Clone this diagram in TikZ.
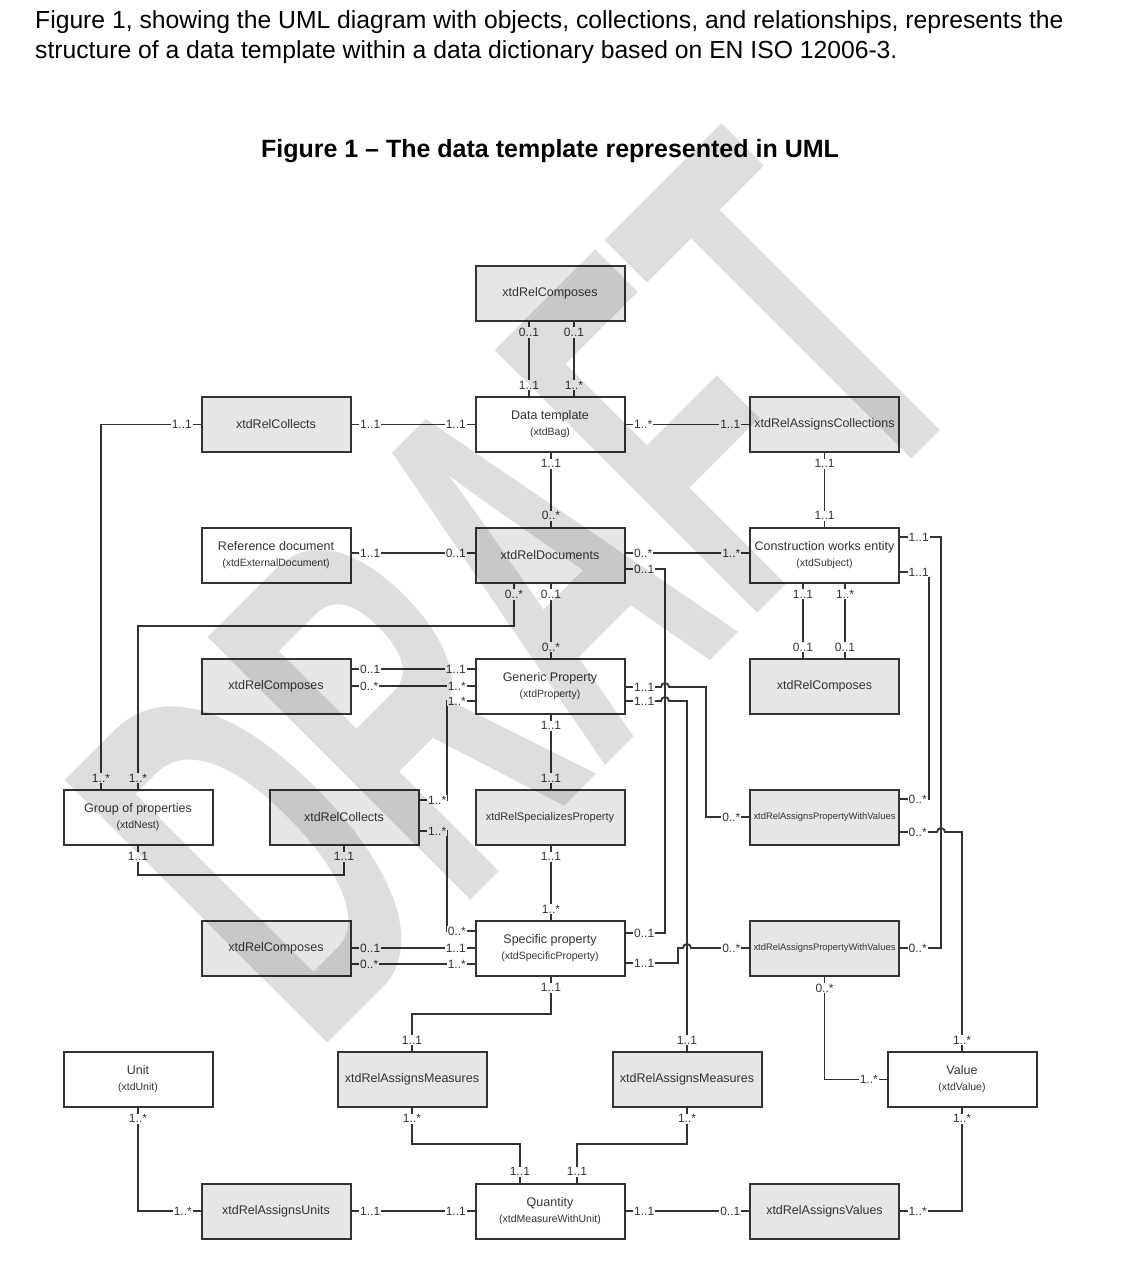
\documentclass[tikz,border=0pt]{standalone}
\usepackage{fontspec}
\setmainfont{Liberation Sans}
\usetikzlibrary{positioning}
\definecolor{dk}{HTML}{333333}
\definecolor{relgray}{HTML}{E6E6E6}
\tikzset{
  rel/.style ={draw=dk, line width=2pt, fill=relgray, minimum width=149pt, minimum height=55pt, inner sep=1pt, text=dk, font=\fontsize{12.5}{15}\selectfont},
  obj/.style ={rel, fill=white, align=center, font=\fontsize{12.5}{17}\selectfont},
  pwvtxt/.style ={font=\fontsize{9.4}{11}\selectfont},
  rsptxt/.style ={font=\fontsize{11}{13}\selectfont},
  lnk/.style ={draw=dk, line width=1.8pt},
  mul/.style ={fill=white, inner sep=0.8pt, text=dk, font=\fontsize{12}{13}\selectfont},
  ms/.style ={mul, anchor=north, yshift=-5pt},
  mn/.style ={mul, anchor=south, yshift=5pt},
  me/.style ={mul, anchor=west, xshift=7pt},
  mw/.style ={mul, anchor=east, xshift=-7pt},
  intro/.style ={anchor=base west, inner sep=0pt, font=\fontsize{24.7}{30}\selectfont}
}
\newcommand{\idtag}[1]{\\[-1pt]{\fontsize{10.5}{12}\selectfont(#1)}}

\begin{document}
\begin{tikzpicture}[x=1pt, y=1pt]
\fill[white] (0,0) rectangle (1132,-1278);
\useasboundingbox (0,0) rectangle (1132,-1278);

% heading
\node[intro] (intro1) at (35,-28) {Figure 1, showing the UML diagram with objects, collections, and relationships, represents the};
\node[intro] (intro2) at (35,-58) {structure of a data template within a data dictionary based on EN ISO 12006-3.};
\node[font=\fontsize{25}{28}\selectfont\bfseries] (caption) at (550,-151) {Figure 1 -- The data template represented in UML};

% boxes
\node[rel] (cmpT)   at (550,-293)    {xtdRelComposes};
\node[obj] (dt)     at (550,-424.5)  {Data template\idtag{xtdBag}};
\node[rel] (colT)   at (276,-424.5)  {xtdRelCollects};
\node[rel] (rac)    at (824.5,-424.5){xtdRelAssignsCollections};
\node[obj] (refdoc) at (276,-555)    {Reference document\idtag{xtdExternalDocument}};
\node[rel] (reldoc) at (550,-555)    {xtdRelDocuments};
\node[obj] (cwe)    at (824.5,-555)  {Construction works entity\idtag{xtdSubject}};
\node[rel] (cmpL)   at (276,-686.5)  {xtdRelComposes};
\node[obj] (gp)     at (550,-686.5)  {Generic Property\idtag{xtdProperty}};
\node[rel] (cmpR)   at (824.5,-686.5){xtdRelComposes};
\node[obj] (gop)    at (138,-817.5)  {Group of properties\idtag{xtdNest}};
\node[rel] (colM)   at (344,-817.5)  {xtdRelCollects};
\node[rel, rsptxt] (rsp)  at (550,-817.5)   {xtdRelSpecializesProperty};
\node[rel, pwvtxt] (pwvU) at (824.5,-817.5) {xtdRelAssignsPropertyWithValues};
\node[rel] (cmpB)   at (276,-948.5)  {xtdRelComposes};
\node[obj] (sp)     at (550,-948.5)  {Specific property\idtag{xtdSpecificProperty}};
\node[rel, pwvtxt] (pwvL) at (824.5,-948.5) {xtdRelAssignsPropertyWithValues};
\node[obj] (unit)   at (138,-1079.5) {Unit\idtag{xtdUnit}};
\node[rel] (ramL)   at (412,-1079.5) {xtdRelAssignsMeasures};
\node[rel] (ramR)   at (687,-1079.5) {xtdRelAssignsMeasures};
\node[obj] (val)    at (962,-1079.5) {Value\idtag{xtdValue}};
\node[rel] (rau)    at (276,-1211)   {xtdRelAssignsUnits};
\node[obj] (qty)    at (550,-1211)   {Quantity\idtag{xtdMeasureWithUnit}};
\node[rel] (rav)    at (824.5,-1211) {xtdRelAssignsValues};

% top part
\draw[lnk] (cmpT.south -| 529,0) node[ms]{0..1} -- (dt.north -| 529,0) node[mn]{1..1};
\draw[lnk] (cmpT.south -| 574,0) node[ms]{0..1} -- (dt.north -| 574,0) node[mn]{1..*};
\draw[lnk] (colT.west) node[mw]{1..1} -| (gop.north -| 101,0) node[mn]{1..*};
\draw[lnk] (colT.east) node[me]{1..1} -- (dt.west) node[mw]{1..1};
\draw[lnk] (dt.east) node[me]{1..*} -- (rac.west) node[mw]{1..1};
\draw[lnk] (dt.south -| 551,0) node[ms]{1..1} -- (reldoc.north -| 551,0) node[mn]{0..*};
\draw[lnk] (rac.south) node[ms]{1..1} -- (cwe.north) node[mn]{1..1};

% documents
\draw[lnk] (refdoc.east |- 0,-553) node[me]{1..1} -- (reldoc.west |- 0,-553) node[mw]{0..1};
\draw[lnk] (reldoc.east |- 0,-553) node[me]{0..*} -- (cwe.west |- 0,-553) node[mw]{1..*};
\draw[lnk] (reldoc.east |- 0,-569) node[me]{0..1} -| (665,-933) -- (sp.east |- 0,-933) node[me]{0..1};
\draw[lnk] (reldoc.south -| 514,0) node[ms]{0..*} |- (138,-626) -- (gop.north) node[mn]{1..*};
\draw[lnk] (reldoc.south -| 551,0) node[ms]{0..1} -- (gp.north -| 551,0) node[mn]{0..*};

% subject
\draw[lnk] (cwe.south -| 803,0) node[ms]{1..1} -- (cmpR.north -| 803,0) node[mn]{0..1};
\draw[lnk] (cwe.south -| 845,0) node[ms]{1..*} -- (cmpR.north -| 845,0) node[mn]{0..1};
\draw[lnk] (cwe.east |- 0,-537) node[me]{1..1} -| (941,-948) -- (pwvL.east |- 0,-948) node[me]{0..*};
\draw[lnk] (cwe.east |- 0,-572) node[me]{1..1} -| (929,-799) -- (pwvU.east |- 0,-799) node[me]{0..*};

% properties
\draw[lnk] (cmpL.east |- 0,-669) node[me]{0..1} -- (gp.west |- 0,-669) node[mw]{1..1};
\draw[lnk] (cmpL.east |- 0,-686) node[me]{0..*} -- (gp.west |- 0,-686) node[mw]{1..*};
\draw[lnk] (colM.east |- 0,-800) node[me]{1..*} -| (447,-701) -- (gp.west |- 0,-701) node[mw]{1..*};
\draw[lnk] (colM.east |- 0,-831) node[me]{1..*} -| (447,-931) -- (sp.west |- 0,-931) node[mw]{0..*};
\draw[lnk] (gop.south) node[ms]{1..1} |- (344,-875) -- (colM.south) node[ms]{1..1};
\draw[lnk] (gp.south -| 551,0) node[ms]{1..1} -- (rsp.north -| 551,0) node[mn]{1..1};
\draw[lnk] (rsp.south -| 551,0) node[ms]{1..1} -- (sp.north -| 551,0) node[mn]{1..*};
\draw[lnk] (gp.east |- 0,-687) node[me]{1..1} -- (661,-687) arc[start angle=180, end angle=0, radius=4]
  -| (706,-817) -- (pwvU.west |- 0,-817) node[mw]{0..*};
\draw[lnk] (gp.east |- 0,-701) node[me]{1..1} -- (661,-701) arc[start angle=180, end angle=0, radius=4]
  -| (ramR.north) node[mn]{1..1};
\draw[lnk] (cmpB.east |- 0,-948) node[me]{0..1} -- (sp.west |- 0,-948) node[mw]{1..1};
\draw[lnk] (cmpB.east |- 0,-964) node[me]{0..*} -- (sp.west |- 0,-964) node[mw]{1..*};
\draw[lnk] (sp.east |- 0,-963) node[me]{1..1} -| (678,-948) -- (683,-948) arc[start angle=180, end angle=0, radius=4]
  -- (pwvL.west |- 0,-948) node[mw]{0..*};

% measures and values
\draw[lnk] (sp.south -| 551,0) node[ms]{1..1} |- (412,-1014) -- (ramL.north) node[mn]{1..1};
\draw[lnk] (ramL.south) node[ms]{1..*} |- (520,-1144) -- (qty.north -| 520,0) node[mn]{1..1};
\draw[lnk] (ramR.south) node[ms]{1..*} |- (577,-1144) -- (qty.north -| 577,0) node[mn]{1..1};
\draw[lnk] (unit.south) node[ms]{1..*} |- (rau.west) node[mw]{1..*};
\draw[lnk] (rau.east) node[me]{1..1} -- (qty.west) node[mw]{1..1};
\draw[lnk] (qty.east) node[me]{1..1} -- (rav.west) node[mw]{0..1};
\draw[lnk] (rav.east) node[me]{1..*} -| (val.south) node[ms]{1..*};
\draw[lnk] (pwvL.south) node[ms]{0..*} |- (val.west) node[mw]{1..*};
\draw[lnk] (pwvU.east |- 0,-832) node[me]{0..*} -- (937,-832) arc[start angle=180, end angle=0, radius=4]
  -| (val.north) node[mn]{1..*};

% watermark
\node[rotate=45, anchor=base west, inner sep=0pt, text=black, opacity=0.13, font=\fontsize{540}{540}\selectfont\bfseries] (draft) at (314,-1057) {\scalebox{0.52}[1]{DRAFT}};
\end{tikzpicture}
\end{document}
